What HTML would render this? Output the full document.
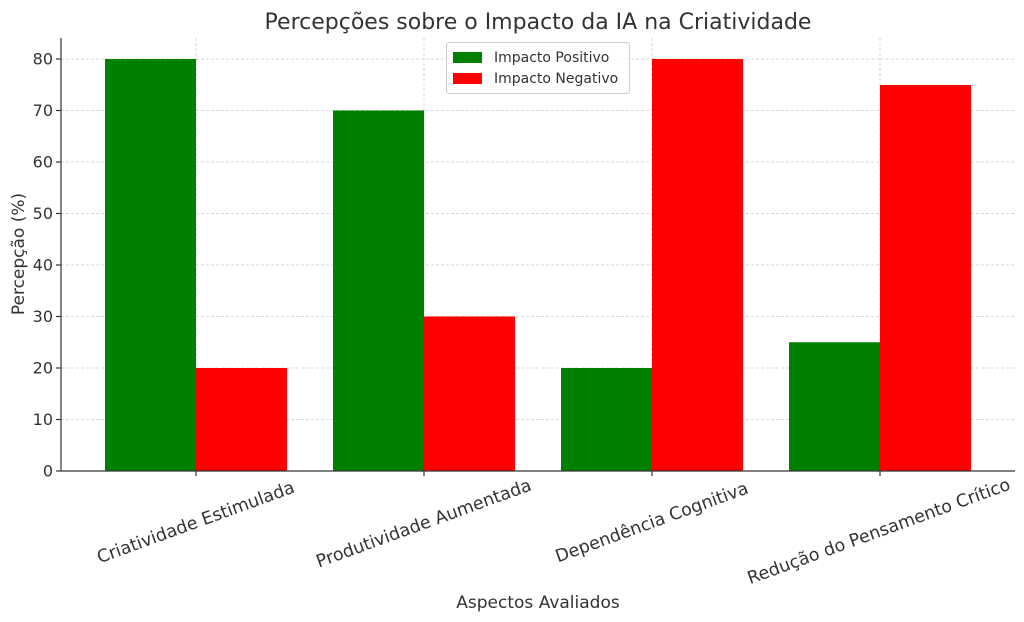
<!DOCTYPE html>
<html><head><meta charset="utf-8"><style>body{margin:0;background:#fff}svg{display:block}text{font-family:"DejaVu Sans","Liberation Sans",sans-serif;fill:#333}</style></head>
<body>
<svg width="1024" height="622" viewBox="0 0 1024 622" xmlns="http://www.w3.org/2000/svg">
<rect width="1024" height="622" fill="#fff"/>
<g stroke="#ccc" stroke-width="0.8" stroke-dasharray="3,2">
<line x1="61" x2="1015" y1="419.5" y2="419.5"/><line x1="61" x2="1015" y1="368" y2="368"/>
<line x1="61" x2="1015" y1="316.5" y2="316.5"/><line x1="61" x2="1015" y1="265" y2="265"/>
<line x1="61" x2="1015" y1="213.5" y2="213.5"/><line x1="61" x2="1015" y1="162" y2="162"/>
<line x1="61" x2="1015" y1="110.5" y2="110.5"/><line x1="61" x2="1015" y1="59" y2="59"/>
<line x1="196" x2="196" y1="38" y2="471"/><line x1="424" x2="424" y1="38" y2="471"/>
<line x1="652" x2="652" y1="38" y2="471"/><line x1="880" x2="880" y1="38" y2="471"/>
</g>
<g fill="#008000">
<rect x="105" y="59" width="91" height="412"/><rect x="333" y="110.5" width="91" height="360.5"/>
<rect x="561" y="368" width="91" height="103"/><rect x="789" y="342.25" width="91" height="128.75"/>
</g>
<g fill="#ff0000">
<rect x="196" y="368" width="91" height="103"/><rect x="424" y="316.5" width="91" height="154.5"/>
<rect x="652" y="59" width="91" height="412"/><rect x="880" y="85" width="91" height="386"/>
</g>
<g stroke="#333" stroke-width="1.2"><line x1="61" y1="38" x2="61" y2="471"/><line x1="61" y1="471" x2="1015" y2="471"/>
<line x1="56" x2="61" y1="471" y2="471"/><line x1="56" x2="61" y1="419.5" y2="419.5"/><line x1="56" x2="61" y1="368" y2="368"/><line x1="56" x2="61" y1="316.5" y2="316.5"/><line x1="56" x2="61" y1="265" y2="265"/><line x1="56" x2="61" y1="213.5" y2="213.5"/><line x1="56" x2="61" y1="162" y2="162"/><line x1="56" x2="61" y1="110.5" y2="110.5"/><line x1="56" x2="61" y1="59" y2="59"/>
<line x1="196" x2="196" y1="471" y2="476"/><line x1="424" x2="424" y1="471" y2="476"/><line x1="652" x2="652" y1="471" y2="476"/><line x1="880" x2="880" y1="471" y2="476"/></g>
<g font-size="16" text-anchor="end" dominant-baseline="central">
<text x="53" y="471">0</text><text x="53" y="419.5">10</text><text x="53" y="368">20</text><text x="53" y="316.5">30</text><text x="53" y="265">40</text><text x="53" y="213.5">50</text><text x="53" y="162">60</text><text x="53" y="110.5">70</text><text x="53" y="59">80</text>
</g>
<g font-size="17.5" text-anchor="middle" dominant-baseline="central">
<text transform="translate(196,523) rotate(-20)">Criatividade Estimulada</text>
<text transform="translate(424,524) rotate(-20)">Produtividade Aumentada</text>
<text transform="translate(652,523) rotate(-20)">Dependência Cognitiva</text>
<text transform="translate(879,532) rotate(-20)">Redução do Pensamento Crítico</text>
</g>
<text x="538" y="608" font-size="17" text-anchor="middle">Aspectos Avaliados</text>
<text transform="translate(24,254) rotate(-90)" font-size="17" text-anchor="middle">Percepção (%)</text>
<text x="538" y="29" font-size="22" text-anchor="middle">Percepções sobre o Impacto da IA na Criatividade</text>
<rect x="446.5" y="42.5" width="183" height="51" rx="3" fill="#fff" fill-opacity="0.85" stroke="#ccc"/>
<rect x="453" y="52" width="29" height="11" fill="#008000"/><rect x="453" y="73" width="29" height="11" fill="#ff0000"/>
<g font-size="14" dominant-baseline="central"><text x="494" y="58">Impacto Positivo</text><text x="494" y="79">Impacto Negativo</text></g>
</svg>
</body></html>
